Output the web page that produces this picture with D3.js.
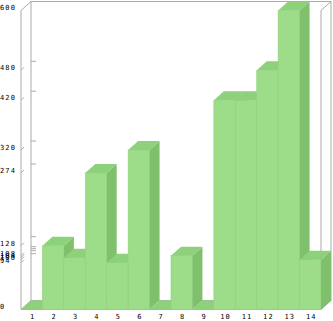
<!DOCTYPE html>
<html>
<head>
    <meta charset="utf-8">
    <title>3D bar chart</title>
    <script src="https://d3js.org/d3.v7.min.js"></script>
    <style>
        body { margin: 0; background: #fff; }
        svg { display: block; }
        text {
            font-family: "DejaVu Sans Mono", monospace;
            font-size: 7px;
            letter-spacing: 1.1px;
            fill: #000;
        }
        .frame { stroke: #aaaaaa; stroke-width: 1; fill: none; }
    </style>
</head>
<body>
    <svg width="333" height="321"></svg>
    <script>
        // 数据
        const categories = ["1","2","3","4","5","6","7","8","9","10","11","12","13","14"];
        const values = [0, 128, 104, 274, 94, 320, 0, 108, 0, 420, 420, 480, 600, 100];
        const yMax = 600;

        const svg = d3.select("svg");
        const dx = 10, dy = -9; // 纵深偏移

        const x = d3.scaleBand().domain(categories).range([21, 321]).padding(0);
        const y = d3.scaleLinear().domain([0, yMax]).range([309.5, 10.5]);

        const y0 = y(0), yTop = y(yMax), xL = 21, xR = 321;

        // 框架（背面、左侧、底面）
        const frame = svg.append("g").attr("class", "frame");
        frame.append("rect")
            .attr("x", xL + dx).attr("y", yTop + dy)
            .attr("width", xR - xL).attr("height", y0 - yTop);
        frame.append("path").attr("d",
            `M${xL},${y0}V${yTop}L${xL + dx},${yTop + dy}` +
            `M${xL},${y0}L${xL + dx},${y0 + dy}` +
            `M${xL},${y0}H${xR}L${xR + dx},${y0 + dy}` +
            `M${xR},${y0}V${yTop}L${xR + dx},${yTop + dy}`);

        // 刻度（值即柱高）
        const ticks = Array.from(new Set(values)).sort((a, b) => a - b);
        ticks.filter(v => v > 0 && v < yMax).forEach(v => {
            frame.append("line")
                .attr("x1", xL + dx).attr("x2", xL + dx + 5)
                .attr("y1", y(v) + dy).attr("y2", y(v) + dy);
            frame.append("line")
                .attr("x1", xL).attr("x2", xL + 3)
                .attr("y1", y(v)).attr("y2", y(v) - 3);
        });

        svg.selectAll("text.ylab")
            .data(ticks)
            .enter().append("text")
            .attr("class", "ylab")
            .attr("x", 0)
            .attr("y", d => y(d) - 2)
            .attr("dominant-baseline", "middle")
            .text(d => d);

        // 柱子
        const bars = svg.append("g");
        categories.forEach((c, i) => {
            const v = values[i];
            const x0 = x(c), w = x.bandwidth(), yt = y(v);
            const g = bars.append("g");
            if (v > 0) {
                g.append("rect")
                    .attr("x", x0).attr("y", yt)
                    .attr("width", w).attr("height", y0 - yt)
                    .attr("fill", "#9ddc88")
                    .attr("stroke", "#92d37e").attr("stroke-width", 0.6);
                g.append("path")
                    .attr("d", `M${x0 + w},${yt}L${x0 + w + dx},${yt + dy}V${y0 + dy}L${x0 + w},${y0}Z`)
                    .attr("fill", "#7ec06c");
            }
            g.append("path")
                .attr("d", `M${x0},${yt}L${x0 + dx},${yt + dy}H${x0 + w + dx}L${x0 + w},${yt}Z`)
                .attr("fill", "#8dd17a");
        });

        // X 轴标签
        svg.selectAll("text.xlab")
            .data(categories)
            .enter().append("text")
            .attr("class", "xlab")
            .attr("x", d => x(d) + x.bandwidth() / 2 + 1)
            .attr("y", 317)
            .attr("text-anchor", "middle")
            .attr("dominant-baseline", "middle")
            .text(d => d);
    </script>
</body>
</html>
